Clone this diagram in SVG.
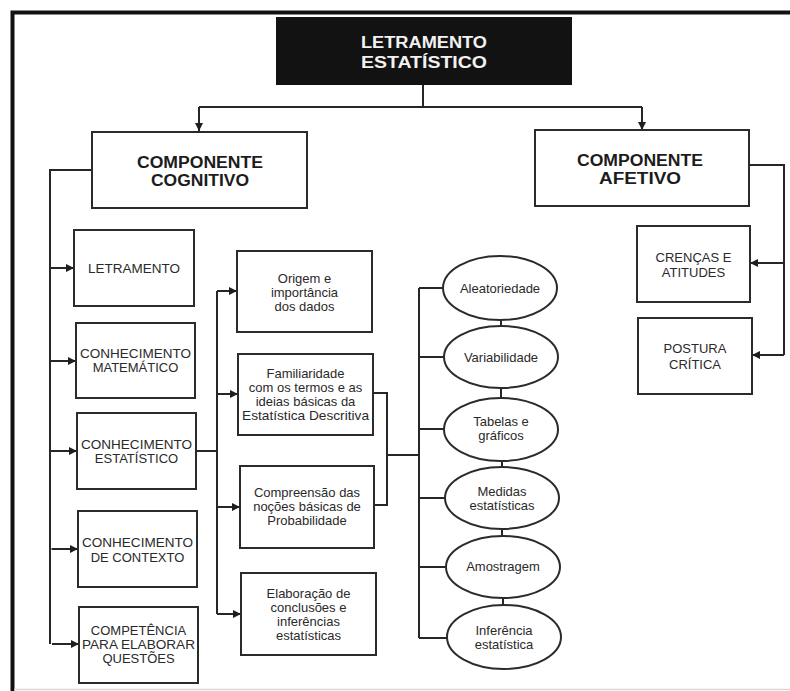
<svg xmlns="http://www.w3.org/2000/svg" width="790" height="691" viewBox="0 0 790 691">
<defs>
<marker id="ah" viewBox="0 0 10 10" refX="10" refY="5" markerWidth="10" markerHeight="8" markerUnits="userSpaceOnUse" orient="auto">
<path d="M0,0 L10,5 L0,10 Z" fill="#1e1e1e"/>
</marker>
</defs>
<style>
.box{fill:#fff;stroke:#2b2b2b;stroke-width:2}
.ov{fill:#fff;stroke:#2b2b2b;stroke-width:2}
.ln{fill:none;stroke:#262626;stroke-width:2}
.ar{fill:none;stroke:#262626;stroke-width:2;marker-end:url(#ah)}
.t{font-family:"Liberation Sans",Arial,sans-serif;font-size:13px;fill:#2a2a2a;text-anchor:middle}
.tb{font-family:"Liberation Sans",Arial,sans-serif;font-size:16px;font-weight:bold;fill:#1c1c1c;text-anchor:middle}
.tw{font-family:"Liberation Sans",Arial,sans-serif;font-size:16px;font-weight:bold;fill:#f2f2f2;text-anchor:middle}
</style>
<rect width="790" height="691" fill="#fff"/>
<!-- frame -->
<path d="M12.5,691 V12.5 H790" fill="none" stroke="#111" stroke-width="4"/>
<line x1="14" y1="689.5" x2="790" y2="689.5" stroke="#d8d8d8" stroke-width="1.5"/>

<g id="connectors">
<path class="ln" d="M423,85 V107"/>
<path class="ln" d="M199,107 H642"/>
<path class="ar" d="M199,107 V131"/>
<path class="ar" d="M642,107 V130"/>
<!-- cognitive bus -->
<path class="ln" d="M92,170 H50 V644"/>
<path class="ar" d="M50,268 H74"/>
<path class="ar" d="M50.5,361 H76"/>
<path class="ar" d="M51,451 H77"/>
<path class="ar" d="M51.5,549 H78"/>
<path class="ar" d="M52,644 H79"/>
<!-- estatistico bus -->
<path class="ln" d="M196,451 H217"/>
<path class="ln" d="M217,291 V614"/>
<path class="ar" d="M217,291 H237"/>
<path class="ar" d="M217,394 H238"/>
<path class="ar" d="M217,507 H240"/>
<path class="ar" d="M217,614 H241"/>
<!-- bracket to ovals -->
<path class="ln" d="M373,393 H387 V505 H374"/>
<path class="ln" d="M387,455 H419"/>
<path class="ln" d="M419,288 V638"/>
<path class="ln" d="M419,288 H443"/>
<path class="ln" d="M419,357 H444"/>
<path class="ln" d="M419,429 H444"/>
<path class="ln" d="M419,498 H445"/>
<path class="ln" d="M419,567 H446"/>
<path class="ln" d="M419,638 H447"/>
<!-- oval links -->
<path class="ln" d="M501,320 V326"/>
<path class="ln" d="M501,388 V398"/>
<path class="ln" d="M502,461 V467"/>
<path class="ln" d="M502,529 V536"/>
<path class="ln" d="M503,598 V605"/>
<!-- affective bus -->
<path class="ln" d="M749,165 H784 V355"/>
<path class="ar" d="M784,263 H750"/>
<path class="ar" d="M784,355 H752"/>
</g>

<g id="letramento-estatistico">
<rect x="276" y="17" width="296" height="68" fill="#121212"/>
<text class="tw" x="424" y="48" textLength="126" lengthAdjust="spacingAndGlyphs">LETRAMENTO</text>
<text class="tw" x="424" y="68" textLength="126" lengthAdjust="spacingAndGlyphs">ESTATÍSTICO</text>
</g>

<g id="componente-cognitivo">
<rect class="box" x="92" y="132" width="215" height="76"/>
<text class="tb" x="200" y="168" textLength="126" lengthAdjust="spacingAndGlyphs">COMPONENTE</text>
<text class="tb" x="200" y="186" textLength="98" lengthAdjust="spacingAndGlyphs">COGNITIVO</text>
</g>

<g id="componente-afetivo">
<rect class="box" x="535" y="130" width="214" height="76"/>
<text class="tb" x="640" y="166" textLength="126" lengthAdjust="spacingAndGlyphs">COMPONENTE</text>
<text class="tb" x="640" y="184" textLength="82" lengthAdjust="spacingAndGlyphs">AFETIVO</text>
</g>

<g id="letramento">
<rect class="box" x="74" y="230" width="120" height="76"/>
<text class="t" x="134" y="273" textLength="92" lengthAdjust="spacingAndGlyphs">LETRAMENTO</text>
</g>

<g id="conhecimento-matematico">
<rect class="box" x="76" y="323" width="119" height="75"/>
<text class="t" x="135.5" y="358" textLength="111" lengthAdjust="spacingAndGlyphs">CONHECIMENTO</text>
<text class="t" x="135.5" y="372">MATEMÁTICO</text>
</g>

<g id="conhecimento-estatistico">
<rect class="box" x="77" y="413" width="119" height="76"/>
<text class="t" x="136.5" y="449" textLength="111" lengthAdjust="spacingAndGlyphs">CONHECIMENTO</text>
<text class="t" x="136.5" y="463">ESTATÍSTICO</text>
</g>

<g id="conhecimento-contexto">
<rect class="box" x="78" y="511" width="119" height="76"/>
<text class="t" x="137.5" y="547" textLength="111" lengthAdjust="spacingAndGlyphs">CONHECIMENTO</text>
<text class="t" x="137.5" y="562">DE CONTEXTO</text>
</g>

<g id="competencia">
<rect class="box" x="79" y="607" width="119" height="76"/>
<text class="t" x="138.5" y="635">COMPETÊNCIA</text>
<text class="t" x="138.5" y="649" textLength="113" lengthAdjust="spacingAndGlyphs">PARA ELABORAR</text>
<text class="t" x="138.5" y="663">QUESTÕES</text>
</g>

<g id="origem">
<rect class="box" x="237" y="251" width="135" height="81"/>
<text class="t" x="304.5" y="283">Origem e</text>
<text class="t" x="304.5" y="297">importância</text>
<text class="t" x="304.5" y="311">dos dados</text>
</g>

<g id="familiaridade">
<rect class="box" x="238" y="354" width="135" height="81"/>
<text class="t" x="305.5" y="378">Familiaridade</text>
<text class="t" x="305.5" y="392">com os termos e as</text>
<text class="t" x="305.5" y="406">ideias básicas da</text>
<text class="t" x="305.5" y="420" textLength="127" lengthAdjust="spacingAndGlyphs">Estatística Descritiva</text>
</g>

<g id="compreensao">
<rect class="box" x="240" y="466" width="134" height="82"/>
<text class="t" x="307" y="497">Compreensão das</text>
<text class="t" x="307" y="511">noções básicas de</text>
<text class="t" x="307" y="525">Probabilidade</text>
</g>

<g id="elaboracao">
<rect class="box" x="241" y="573" width="135" height="82"/>
<text class="t" x="308.5" y="598">Elaboração de</text>
<text class="t" x="308.5" y="612">conclusões e</text>
<text class="t" x="308.5" y="626">inferências</text>
<text class="t" x="308.5" y="640">estatísticas</text>
</g>

<g id="aleatoriedade">
<ellipse class="ov" cx="500" cy="288" rx="57" ry="32"/>
<text class="t" x="500" y="293">Aleatoriedade</text>
</g>
<g id="variabilidade">
<ellipse class="ov" cx="501" cy="357" rx="57" ry="31"/>
<text class="t" x="501" y="362">Variabilidade</text>
</g>
<g id="tabelas">
<ellipse class="ov" cx="501" cy="429.5" rx="57" ry="31.5"/>
<text class="t" x="501" y="426">Tabelas e</text>
<text class="t" x="501" y="440">gráficos</text>
</g>
<g id="medidas">
<ellipse class="ov" cx="502" cy="498" rx="57" ry="31"/>
<text class="t" x="502" y="496">Medidas</text>
<text class="t" x="502" y="510">estatísticas</text>
</g>
<g id="amostragem">
<ellipse class="ov" cx="503" cy="567" rx="57" ry="31"/>
<text class="t" x="503" y="571">Amostragem</text>
</g>
<g id="inferencia">
<ellipse class="ov" cx="504" cy="637" rx="57" ry="32"/>
<text class="t" x="504" y="635">Inferência</text>
<text class="t" x="504" y="649">estatística</text>
</g>

<g id="crencas">
<rect class="box" x="637" y="226" width="113" height="76"/>
<text class="t" x="693.5" y="262">CRENÇAS E</text>
<text class="t" x="693.5" y="277">ATITUDES</text>
</g>

<g id="postura">
<rect class="box" x="638" y="318" width="114" height="76"/>
<text class="t" x="695" y="353">POSTURA</text>
<text class="t" x="695" y="369">CRÍTICA</text>
</g>
</svg>
